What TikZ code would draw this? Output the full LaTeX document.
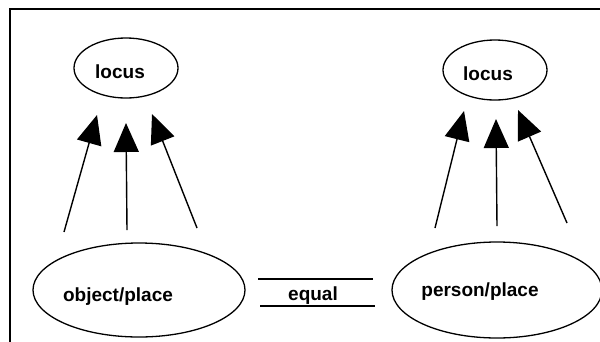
\documentclass[tikz,border=0pt]{standalone}
\usepackage{fontspec}
\setmainfont{Liberation Sans}
\usetikzlibrary{shapes.geometric,arrows.meta}
\begin{document}
\begin{tikzpicture}[x=1pt,y=-1pt,
  oval/.style={draw,ellipse,line width=1.3pt,inner sep=0pt},
  lbl/.style={font=\fontsize{19}{22}\selectfont\bfseries,inner sep=0pt},
  uparrow/.style={line width=1.4pt,-{Triangle[length=29pt,width=25pt]}},
  eqline/.style={line width=1.6pt},
  frame/.style={line width=2.2pt}]
\useasboundingbox (0,0) rectangle (600,341);
\clip (0,0) rectangle (600,341);
% frame
\draw[frame] (10,350) -- (10,9) -- (610,9);
% top ellipses
\node[oval,minimum width=104pt,minimum height=60pt] (locA) at (126,68) {};
\node[lbl] (locAt) at (120,72) {locus};
\node[oval,minimum width=104pt,minimum height=60pt] (locB) at (495,70) {};
\node[lbl] (locBt) at (488,74) {locus};
% bottom ellipses
\node[oval,minimum width=212pt,minimum height=94pt] (obj) at (139,290) {};
\node[lbl] (objt) at (118,297) {object/place};
\node[oval,minimum width=210pt,minimum height=96pt] (per) at (497,290) {};
\node[lbl] (pert) at (480,292) {person/place};
% equal
\coordinate (e1a) at (258,279); \coordinate (e1b) at (373,279);
\coordinate (e2a) at (260,306); \coordinate (e2b) at (375,306);
\draw[eqline] (e1a) -- (e1b);
\draw[eqline] (e2a) -- (e2b);
\node[lbl] (eqt) at (313,296) {equal};
% arrow coordinates left
\coordinate (a1s) at (64,232);  \coordinate (a1e) at (97,115);
\coordinate (a2s) at (127,230); \coordinate (a2e) at (126,123);
\coordinate (a3s) at (197,228); \coordinate (a3e) at (152,114);
% right
\coordinate (b1s) at (435,228); \coordinate (b1e) at (464,111);
\coordinate (b2s) at (497,226); \coordinate (b2e) at (496,119);
\coordinate (b3s) at (567,223); \coordinate (b3e) at (518,110);
\foreach \s/\e in {a1s/a1e,a2s/a2e,a3s/a3e,b1s/b1e,b2s/b2e,b3s/b3e}
  \draw[uparrow] (\s) -- (\e);
\end{tikzpicture}
\end{document}
